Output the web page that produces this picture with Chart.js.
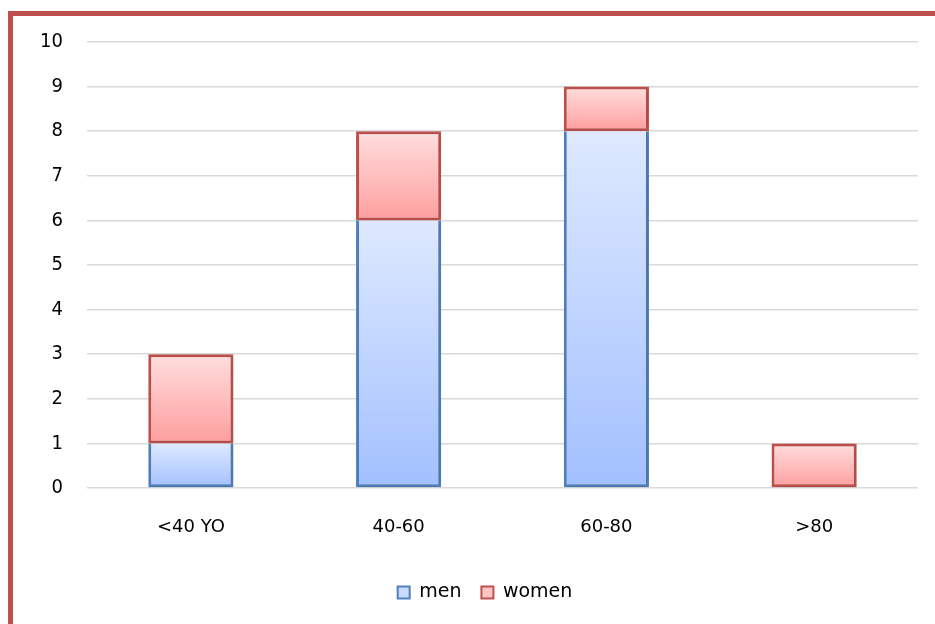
<!DOCTYPE html>
<html>
<head>
<meta charset="utf-8">
<script src="https://cdn.jsdelivr.net/npm/chart.js@4/dist/chart.umd.min.js"></script>
<style>
  html,body{margin:0;padding:0;background:#fff;}
  #wrap{position:relative;width:935px;height:624px;overflow:hidden;}
  #frame{position:absolute;left:8px;top:11px;width:1000px;height:700px;border-left:5px solid #C0504D;border-top:5px solid #C0504D;box-sizing:border-box;}
  canvas{position:absolute;left:0;top:0;}
</style>
</head>
<body>
<div id="wrap">
  <div id="frame"></div>
  <canvas id="c" width="935" height="624"></canvas>
</div>
<script>
const categories = ['<40 YO', '40-60', '60-80', '>80'];
const men = [1, 6, 8, 0];
const women = [2, 2, 1, 1];
const seriesNames = ['men', 'women'];
const yTicks = [0,1,2,3,4,5,6,7,8,9,10];

function gradFill(topColor, bottomColor, startArr, valArr) {
  return function(ctx) {
    const chart = ctx.chart;
    const y = chart.scales.y;
    if (!chart.chartArea || !y || ctx.dataIndex === undefined) return bottomColor;
    const i = ctx.dataIndex;
    const base = startArr ? startArr[i] : 0;
    const top = base + valArr[i];
    const yTop = y.getPixelForValue(top);
    const yBot = y.getPixelForValue(base);
    if (!isFinite(yTop) || !isFinite(yBot) || yTop === yBot) return bottomColor;
    const g = chart.ctx.createLinearGradient(0, yTop, 0, yBot);
    g.addColorStop(0, topColor);
    g.addColorStop(1, bottomColor);
    return g;
  };
}

const shadowPlugin = {
  id: 'shadow',
  beforeDatasetsDraw(chart) {
    const c = chart.ctx;
    c.save();
    c.shadowColor = 'rgba(0,0,0,0.18)';
    c.shadowBlur = 5;
    c.shadowOffsetX = 1;
    c.shadowOffsetY = 1;
  },
  afterDatasetsDraw(chart) {
    chart.ctx.restore();
  }
};

const legendShift = {
  id: 'legendShift',
  afterLayout(chart) {
    const l = chart.legend;
    if (l) { l.left += 19; l.right += 19; }
  }
};

new Chart(document.getElementById('c'), {
  type: 'bar',
  data: {
    labels: categories,
    datasets: [
      {
        label: seriesNames[0],
        data: men,
        backgroundColor: gradFill('#DEE9FF', '#A2C0FF', null, men),
        borderColor: '#4F81BD',
        borderWidth: { top: 0, left: 3, right: 3, bottom: 3 },
        borderSkipped: false,
        categoryPercentage: 1.0,
        barPercentage: 0.41
      },
      {
        label: seriesNames[1],
        data: women,
        backgroundColor: gradFill('#FFDEDE', '#FF9E9E', men, women),
        borderColor: '#C0504D',
        borderWidth: 3,
        borderSkipped: false,
        categoryPercentage: 1.0,
        barPercentage: 0.41
      }
    ]
  },
  options: {
    responsive: false,
    animation: false,
    layout: { padding: { left: 14, right: 17, top: 42, bottom: 12 } },
    plugins: {
      tooltip: { enabled: false },
      legend: {
        position: 'bottom',
        labels: {
          font: { family: 'DejaVu Sans', size: 19 },
          color: '#000',
          boxWidth: 12,
          boxHeight: 12,
          padding: 20,
          generateLabels(chart) {
            const cols = [['#C9DAFF', '#4F81BD'], ['#FFC4C4', '#C0504D']];
            return chart.data.datasets.map((d, i) => ({
              text: d.label,
              fillStyle: cols[i][0],
              strokeStyle: cols[i][1],
              lineWidth: 2,
              datasetIndex: i,
              hidden: false
            }));
          }
        }
      }
    },
    scales: {
      x: {
        stacked: true,
        grid: { display: false, drawTicks: false },
        border: { display: false },
        ticks: { font: { family: 'DejaVu Sans', size: 18 }, color: '#000', padding: 29 },
        afterFit(s) { s.height = 75; }
      },
      y: {
        stacked: true,
        min: 0,
        max: 10,
        afterBuildTicks(s) { s.ticks = yTicks.map(v => ({ value: v })); },
        grid: { color: '#D9D9D9', lineWidth: 1.5, drawTicks: false },
        border: { display: false },
        ticks: { font: { family: 'DejaVu Sans Condensed', size: 20 }, color: '#000', padding: 24 },
        afterFit(s) { s.width = 73; }
      }
    }
  },
  plugins: [shadowPlugin, legendShift]
});
</script>
</body>
</html>
